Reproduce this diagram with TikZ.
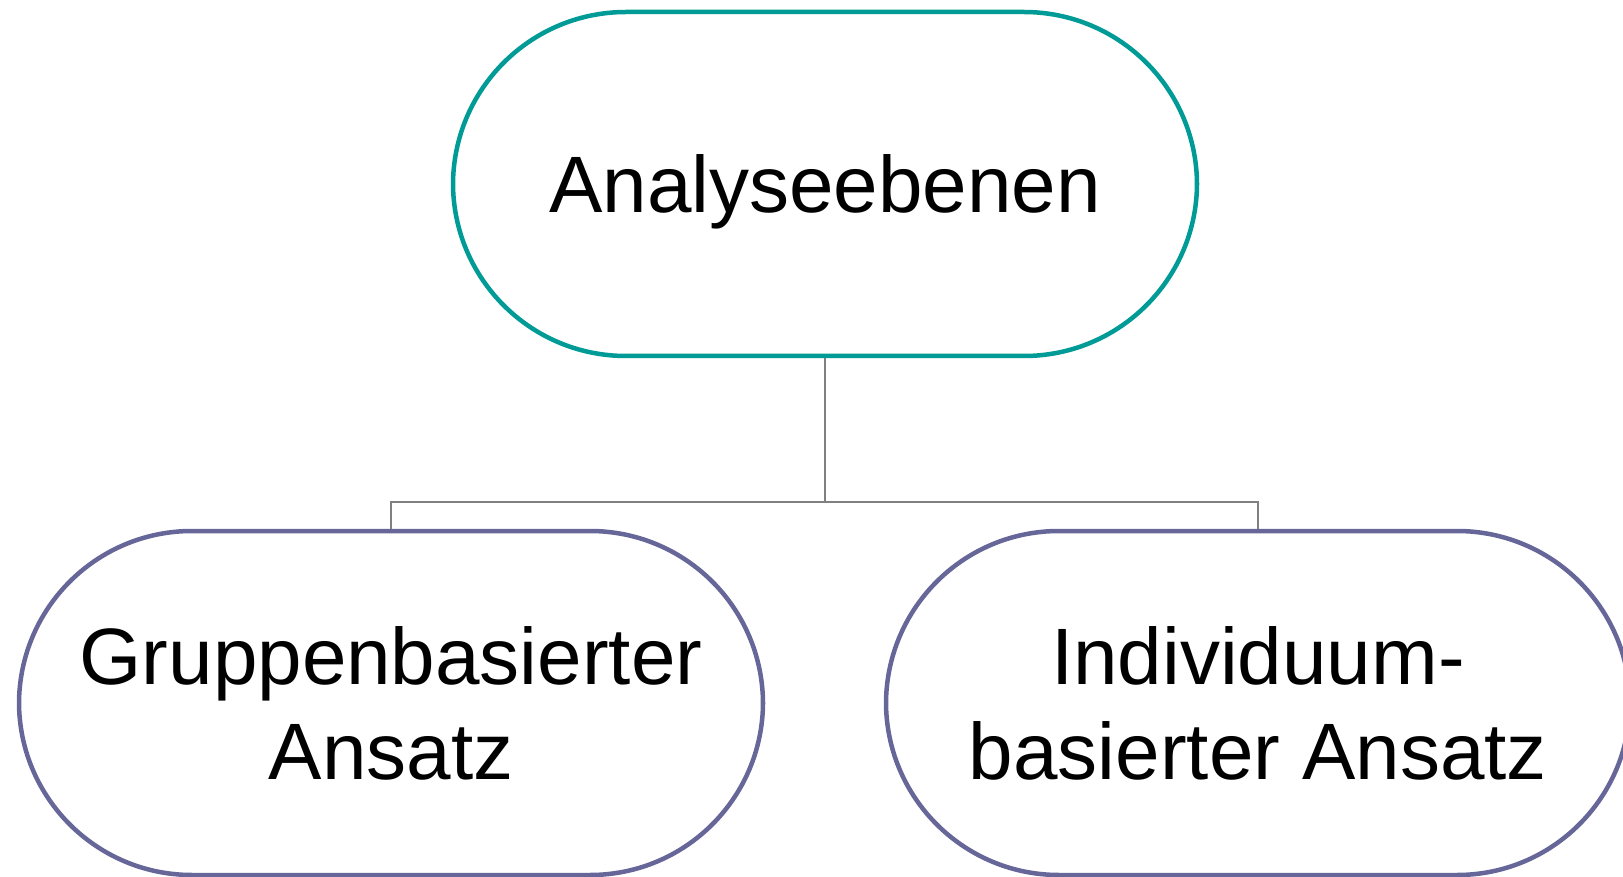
\documentclass[tikz,border=0pt]{standalone}
\usepackage{fontspec}
\setmainfont{Liberation Sans}
\definecolor{teal1}{RGB}{0,155,150}
\definecolor{purp1}{RGB}{102,102,153}
\definecolor{conng}{RGB}{128,128,128}
\begin{document}
\begin{tikzpicture}[x=1pt,y=-1pt,
  pill/.style={draw, line width=4.5pt, rectangle, rounded corners=173pt,
    minimum width=744pt, minimum height=344pt, inner sep=0pt,
    align=center, font=\fontsize{80}{95}\selectfont, fill=white},
  conn/.style={draw=conng, line width=1.6pt}]
\useasboundingbox (0,0) rectangle (1623,877);
\node[pill, draw=teal1] (top) at (825,184) {\raisebox{-8pt}[\height][\depth]{Analyseebenen}};
\node[pill, draw=purp1] (left) at (391,703) {Gruppenbasierter\\Ansatz};
\node[pill, draw=purp1] (right) at (1258,703) {Individuum-\\basierter Ansatz};
\coordinate (bus) at (825,502);
\draw[conn] (top.south) -- (bus) -| (left.north);
\draw[conn] (bus) -| (right.north);
\end{tikzpicture}
\end{document}
